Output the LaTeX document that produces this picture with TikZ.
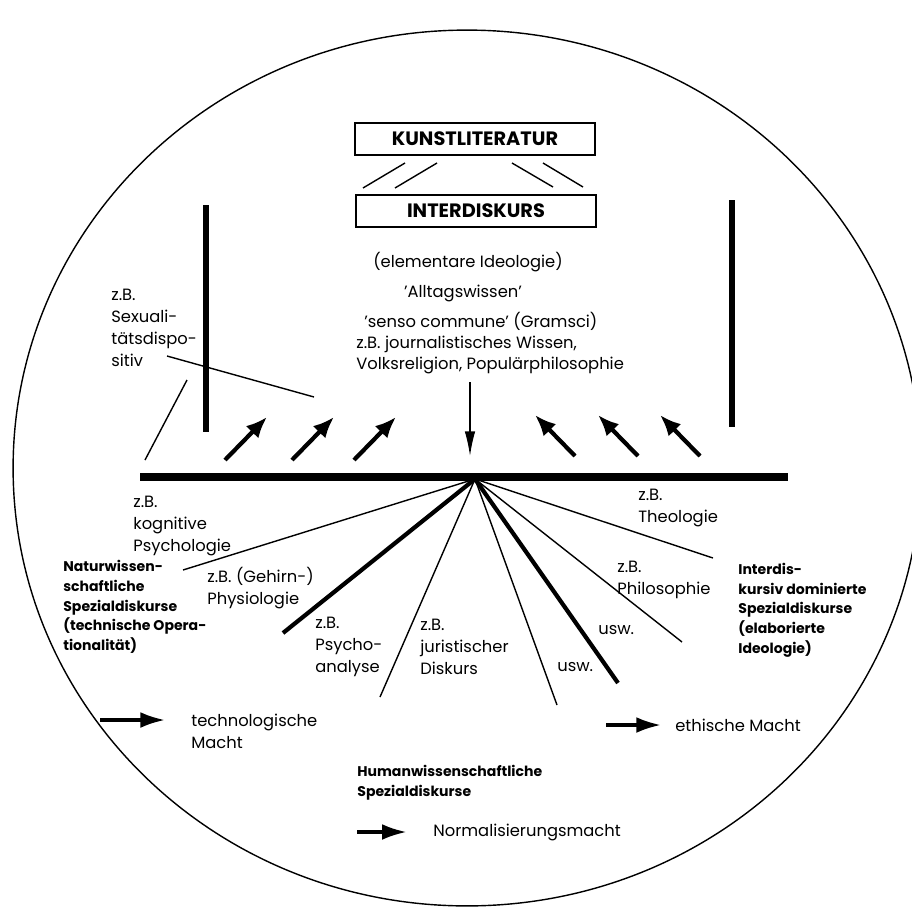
\documentclass[tikz,border=0pt]{standalone}
\usepackage{fontspec}
\setmainfont{Poppins}
\usetikzlibrary{arrows.meta}

\begin{document}
\begin{tikzpicture}[x=0.02cm,y=-0.02cm,
    every node/.style={font=\fontsize{9.3}{12.5}\selectfont,inner sep=0pt,align=left},
    titlebox/.style={draw,line width=0.8pt,minimum width=4.8cm,minimum height=0.64cm,font=\fontsize{11}{13}\selectfont\bfseries,align=center},
    txt/.style={anchor=west},
    boldtxt/.style={anchor=west,font=\fontsize{8}{11.2}\selectfont\bfseries},
    bar/.style={line width=3.4pt},
    fan/.style={line width=0.8pt},
    fatfan/.style={line width=2.4pt},
    push/.style={line width=2.4pt,-{Latex[length=12pt,width=10pt]}},
    legend/.style={line width=1.8pt,-{Latex[length=14pt,width=9pt]}}]
    \useasboundingbox (0,0) rectangle (912,906);
    \draw[line width=0.8pt] (467,468) ellipse [x radius=9.08cm,y radius=8.76cm];

    \node[titlebox] (kunst) at (475,139) {KUNSTLITERATUR};
    \node[titlebox] (inter) at (476,211) {INTERDISKURS};
    \foreach \a/\b/\c/\d in {363/188/405/163,395/188/437/163,512/163/553/187,543/163/583/187}
        \draw[fan] (\a,\b) -- (\c,\d);

    \draw[bar] (206,205) -- (206,432);
    \draw[bar] (732,200) -- (732,427);
    \draw[line width=4pt] (140,477) -- (788,477);
    \coordinate (O) at (475,479);

    \node (elem) at (468,262) {(elementare Ideologie)};
    \node (alltag) at (463,293) {'Alltagswissen'};
    \node[txt] (senso) at (364,321) {'senso commune' (Gramsci)};
    \node[txt] (volks) at (356,355) {z.B. journalistisches Wissen,\\Volksreligion, Populärphilosophie};
    \coordinate (down) at (470,382);
    \draw[fan,-{Latex[length=14pt,width=6pt]}] (down) -- (470,456);

    \node[txt] (sexual) at (111,328) {z.B.\\Sexuali-\\tätsdispo-\\sitiv};
    \coordinate (sx1) at (167,356);
    \coordinate (sx2) at (187,380);
    \draw[fan] (sx1) -- (314,397);
    \draw[fan] (sx2) -- (145,460);

    \foreach \x in {225,292,354}
        \draw[push] (\x,460) -- ++(42,-43);
    \foreach \x in {575,638,700}
        \draw[push] (\x,456) -- ++(-40,-41);

    \foreach \x/\y/\s in {183/570/fan,283/633/fatfan,380/697/fan,557/705/fan,618/683/fatfan,682/642/fan,713/558/fan}
        \draw[\s] (O) -- (\x,\y);

    \node[txt] (kogn) at (133,526) {z.B.\\kognitive\\Psychologie};
    \node[boldtxt] (natur) at (63,607) {Naturwissen-\\schaftliche\\Spezialdiskurse\\(technische Opera-\\tionalität)};
    \node[txt] (gehirn) at (207,588) {z.B. (Gehirn-)\\Physiologie};
    \node[txt] (psycho) at (315,647) {z.B.\\Psycho-\\analyse};
    \node[txt] (jurist) at (420,647) {z.B.\\juristischer\\Diskurs};
    \node[txt] (theol) at (638,508) {z.B.\\Theologie};
    \node[txt] (philo) at (617,580) {z.B.\\Philosophie};
    \node[txt] (usw1) at (598,630) {usw.};
    \node[txt] (usw2) at (557,667) {usw.};
    \node[boldtxt] (interdis) at (738,610) {Interdis-\\kursiv dominierte\\Spezialdiskurse\\(elaborierte\\ Ideologie)};

    \node[txt] (tech) at (191,731) {technologische\\Macht};
    \coordinate (techarrow) at (100,720);
    \draw[legend] (techarrow) -- (165,720);
    \node[boldtxt] (human) at (357,783) {Humanwissenschaftliche\\Spezialdiskurse};
    \node[txt] (norm) at (433,832) {Normalisierungsmacht};
    \draw[legend] (357,832) -- ([xshift=-15]norm.west);
    \node[txt] (ethik) at (675,725) {ethische Macht};
    \draw[legend] (606,725) -- ([xshift=-8]ethik.west);
\end{tikzpicture}
\end{document}
